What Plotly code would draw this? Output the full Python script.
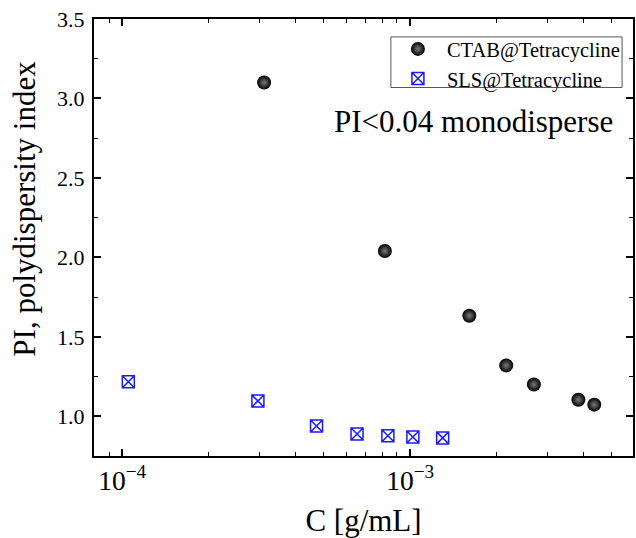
import plotly.graph_objects as go

# Data
ctab_c = [3.11e-4, 8.17e-4, 1.605e-3, 2.156e-3, 2.69e-3, 3.84e-3, 4.36e-3]
ctab_pi = [3.10, 2.04, 1.633, 1.32, 1.20, 1.104, 1.073]

sls_c = [1.05e-4, 2.96e-4, 4.73e-4, 6.54e-4, 8.37e-4, 1.022e-3, 1.297e-3]
sls_pi = [1.217, 1.096, 0.939, 0.889, 0.877, 0.869, 0.864]

x_range_log = [-4.098, -2.226]
y_range = [0.75, 3.5]
y_ticks = [1.0, 1.5, 2.0, 2.5, 3.0, 3.5]

FONT = "Liberation Serif"

fig = go.Figure()
fig.add_trace(go.Scatter(
    x=ctab_c, y=ctab_pi, mode="markers", name="CTAB@Tetracycline",
    marker=dict(symbol="circle", size=14, color="#000000",
                gradient=dict(type="radial", color="#7a7a7a"),
                line=dict(width=0)),
))
fig.add_trace(go.Scatter(
    x=sls_c, y=sls_pi, mode="markers", name="SLS@Tetracycline",
    marker=dict(symbol="square-x-open", size=12, color="#1a1aff",
                line=dict(width=1.5, color="#1a1aff")),
))

fig.add_annotation(
    text="PI<0.04 monodisperse", xref="paper", yref="paper",
    x=0.4418, y=0.766, xanchor="left", yanchor="middle", showarrow=False,
    font=dict(family=FONT, size=31, color="black"),
)
# y-axis title (placed as annotation: it sits above the plot centre in the reference)
fig.add_annotation(
    text="PI, polydispersity index", xref="paper", yref="paper",
    x=-0.128, y=0.566, xanchor="center", yanchor="middle", showarrow=False,
    textangle=-90,
    font=dict(family=FONT, size=31, color="black"),
)

# legend frame (tighter than plotly's own legend padding)
fig.add_shape(
    type="rect", xref="paper", yref="paper",
    x0=0.5508, x1=0.9797, y0=0.8432, y1=0.959,
    fillcolor="white", line=dict(color="#555555", width=1), layer="above",
)

axis_common = dict(
    showline=True, linecolor="black", linewidth=2, mirror="allticks",
    ticks="inside", ticklen=7, tickwidth=1.5, tickcolor="black",
    showgrid=False, zeroline=False,
    tickfont=dict(family=FONT, size=22, color="black"),
)

fig.update_xaxes(
    type="log", range=x_range_log, dtick=1, exponentformat="power",
    title=dict(text="C [g/mL]", font=dict(family=FONT, size=31, color="black"), standoff=19),
    minor=dict(ticks="inside", ticklen=4, tickwidth=1.2, tickcolor="black", dtick="D1", showgrid=False),
    **axis_common,
)
fig.update_yaxes(
    range=y_range, tickvals=y_ticks, tickformat=".1f", ticklabelstandoff=3,
    minor=dict(ticks="inside", ticklen=4, tickwidth=1.2, tickcolor="black", dtick=0.25, showgrid=False),
    **axis_common,
)

fig.update_layout(
    width=636, height=538,
    margin=dict(l=94, r=1, t=19, b=79),
    paper_bgcolor="white", plot_bgcolor="white",
    font=dict(family=FONT, color="black"),
    legend=dict(
        x=0.985, y=0.977, xanchor="right", yanchor="top",
        bgcolor="rgba(0,0,0,0)", borderwidth=0,
        font=dict(family=FONT, size=20.5, color="black"),
        itemwidth=48, tracegroupgap=0,
    ),
)

fig.write_html("out.html")
